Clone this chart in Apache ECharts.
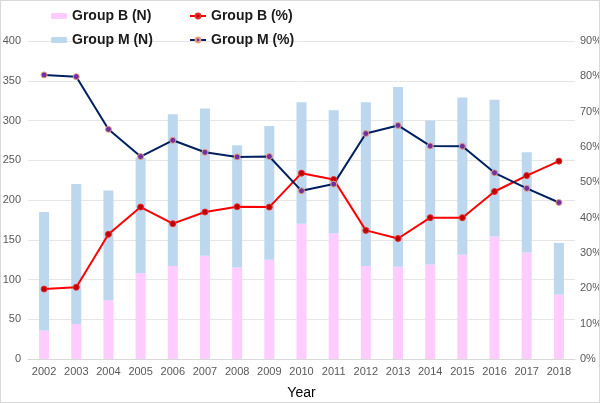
<!DOCTYPE html>
<html><head><meta charset="utf-8">
<script src="https://cdn.jsdelivr.net/npm/echarts@6/dist/echarts.min.js"></script>
<style>html,body{margin:0;padding:0;background:#fff}#c{width:600px;height:403px;box-sizing:border-box;border:1px solid #d9d9d9}</style>
</head><body><div id="c"></div>
<script>
const years = ['2002','2003','2004','2005','2006','2007','2008','2009','2010','2011','2012','2013','2014','2015','2016','2017','2018'];
const groupB_N = [36,44,74,108,117,130,115,125,170,158,117,116,119,131,154,134,81];
const groupM_N = [149,176,138,145,191,185,154,168,153,155,206,226,181,198,172,126,65];
const groupB_pct = [19.8,20.3,35.3,43.0,38.3,41.6,43.1,43.0,52.6,50.8,36.4,34.1,40.0,40.0,47.4,51.9,56.0];
const groupM_pct = [80.4,79.9,65.0,57.3,61.9,58.5,57.2,57.3,47.6,49.5,63.8,66.1,60.3,60.2,52.7,48.3,44.3];

const chart = echarts.init(document.getElementById('c'), null, {renderer:'canvas'});
const legText = {fontSize:14, fontWeight:'bold', color:'#1a1a1a', fontFamily:'Liberation Sans, Arial, sans-serif'};
chart.setOption({
  animation:false,
  textStyle:{fontFamily:'Liberation Sans, Arial, sans-serif'},
  legend:[
    {data:['Group B (N)','Group M (N)'], orient:'vertical', left:45, top:3, itemGap:10, itemWidth:16, itemHeight:6, textStyle:legText},
    {data:['Group B (%)','Group M (%)'], orient:'vertical', left:183, top:3, itemGap:10, itemWidth:16, itemHeight:6, textStyle:legText}
  ],
  grid:{left:27, right:24, top:40, bottom:43, outerBoundsMode:'none', containLabel:false},
  xAxis:{type:'category', data:years, boundaryGap:true,
    axisLine:{lineStyle:{color:'#d9d9d9'}}, axisTick:{show:false},
    axisLabel:{color:'#595959', fontSize:11, margin:7},
    name:'Year', nameLocation:'middle', nameGap:27,
    nameTextStyle:{color:'#000', fontSize:14}},
  yAxis:[
    {type:'value', min:0, max:400, interval:50,
      axisLine:{show:false}, axisTick:{show:false},
      axisLabel:{color:'#595959', fontSize:11, margin:7},
      splitLine:{lineStyle:{color:'#e6e6e6'}}},
    {type:'value', min:0, max:90, interval:10,
      axisLine:{show:false}, axisTick:{show:false},
      axisLabel:{color:'#595959', fontSize:11, margin:5, formatter:'{value}%'},
      splitLine:{show:false}}
  ],
  series:[
    {name:'Group B (N)', type:'bar', stack:'n', data:groupB_N, barWidth:10, itemStyle:{color:'#ffccff'}},
    {name:'Group M (N)', type:'bar', stack:'n', data:groupM_N, barWidth:10, itemStyle:{color:'#bdd7ee'}},
    {name:'Group B (%)', type:'line', yAxisIndex:1, data:groupB_pct, symbol:'circle', symbolSize:6,
      lineStyle:{color:'#ff0000', width:2}, itemStyle:{color:'#c00000', borderColor:'#e03030', borderWidth:1}},
    {name:'Group M (%)', type:'line', yAxisIndex:1, data:groupM_pct, symbol:'circle', symbolSize:6,
      lineStyle:{color:'#002060', width:2}, itemStyle:{color:'#7030a0', borderColor:'#e8a080', borderWidth:1}}
  ]
});
</script></body></html>
